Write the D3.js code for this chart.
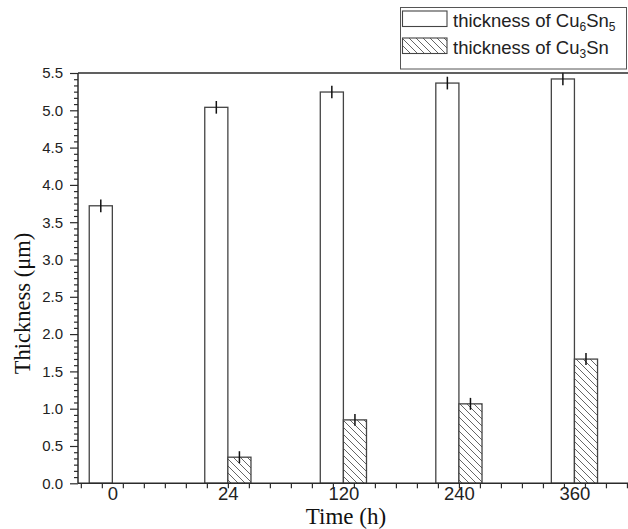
<!DOCTYPE html>
<html>
<head>
<meta charset="utf-8">
<script src="https://cdn.jsdelivr.net/npm/d3@7/dist/d3.min.js"></script>
<style>
  html, body { margin: 0; padding: 0; background: #fff; }
  svg { display: block; }
</style>
</head>
<body>
<svg id="chart" width="628" height="529"></svg>
<script>
// Aging time categories and measured layer thicknesses (µm)
const categories = ["0", "24", "120", "240", "360"];
const cu6sn5 = [3.72, 5.04, 5.245, 5.365, 5.42];
const cu6sn5Err = [0.085, 0.085, 0.085, 0.085, 0.085];
const cu3sn = [null, 0.35, 0.85, 1.065, 1.665];
const cu3snErr = [null, 0.08, 0.08, 0.08, 0.08];
const yTicks = [0, 0.5, 1, 1.5, 2, 2.5, 3, 3.5, 4, 4.5, 5, 5.5];

const W = 628, H = 529;
const plot = { left: 78, right: 628, top: 73, bottom: 483.3 };
const GROUP = 11;      // group spacing in axis units
const BAR = 2.2;       // bar width in axis units

const svg = d3.select("#chart");
const ink = "#2b2b2b";

const x = d3.scaleLinear().domain([-3.27, 49.1]).range([plot.left, plot.right]);
const y = d3.scaleLinear().domain([0, 5.5]).range([plot.bottom, plot.top]);

// hatch pattern for Cu3Sn
const defs = svg.append("defs");
const pat = defs.append("pattern")
  .attr("id", "hatch").attr("patternUnits", "userSpaceOnUse")
  .attr("width", 7).attr("height", 7);
pat.append("rect").attr("width", 7).attr("height", 7).attr("fill", "#fff");
pat.append("path")
  .attr("d", "M-1,-1 L8,8 M-4.5,2.5 L-1,6 M5.5,-2.5 L9,1 M-2,5 L2,9 M5,-2 L9,2")
  .attr("stroke", "#555").attr("stroke-width", 0.9);

const groups = categories.map((c, i) => ({ c, i, pos: i * GROUP }));

// Cu6Sn5 bars (left of group centre)
svg.append("g").selectAll("rect").data(groups).join("rect")
  .attr("x", d => x(d.pos - BAR))
  .attr("width", d => x(d.pos) - x(d.pos - BAR))
  .attr("y", d => y(cu6sn5[d.i]))
  .attr("height", d => y(0) - y(cu6sn5[d.i]))
  .attr("fill", "#fff").attr("stroke", "#444").attr("stroke-width", 1.3);

// Cu3Sn bars (right of group centre)
const g3 = groups.filter(d => cu3sn[d.i] != null);
svg.append("g").selectAll("rect").data(g3).join("rect")
  .attr("x", d => x(d.pos))
  .attr("width", d => x(d.pos + BAR) - x(d.pos))
  .attr("y", d => y(cu3sn[d.i]))
  .attr("height", d => y(0) - y(cu3sn[d.i]))
  .attr("fill", "url(#hatch)").attr("stroke", "#444").attr("stroke-width", 1.3);

// error bars
const errs = [];
groups.forEach(d => {
  errs.push({ cx: d.pos - BAR / 2, v: cu6sn5[d.i], e: cu6sn5Err[d.i] });
  if (cu3sn[d.i] != null) errs.push({ cx: d.pos + BAR / 2, v: cu3sn[d.i], e: cu3snErr[d.i] });
});
svg.append("g").selectAll("line").data(errs).join("line")
  .attr("x1", d => x(d.cx)).attr("x2", d => x(d.cx))
  .attr("y1", d => y(d.v + d.e)).attr("y2", d => y(d.v - d.e))
  .attr("stroke", "#111").attr("stroke-width", 1.5);

// y axis: major ticks with labels, minor ticks
const yMinor = d3.range(0, 5.5 + 1e-9, 0.5 / 6).filter(v => Math.abs(v * 2 - Math.round(v * 2)) > 1e-6);
const yAxisMinor = svg.append("g").attr("transform", `translate(${plot.left},0)`)
  .call(d3.axisLeft(y).tickValues(yMinor).tickSize(4).tickFormat(""));
const yAxis = svg.append("g").attr("transform", `translate(${plot.left},0)`)
  .call(d3.axisLeft(y).tickValues(yTicks).tickSize(8).tickPadding(7).tickFormat(d3.format(".1f")));
[yAxisMinor, yAxis].forEach(g => {
  g.select(".domain").remove();
  g.selectAll(".tick line").attr("stroke", ink).attr("stroke-width", 1.2);
});
yAxis.selectAll(".tick text")
  .attr("font-family", "'Liberation Sans', Arial, sans-serif")
  .attr("font-size", 15).attr("fill", "#222");

// x axis: minor ticks at odd units, category labels at group centres
const xMinor = d3.range(-3, 50, 2);
const xAxisMinor = svg.append("g").attr("transform", `translate(0,${plot.bottom})`)
  .call(d3.axisBottom(x).tickValues(xMinor).tickSize(5).tickFormat(""));
xAxisMinor.select(".domain").remove();
xAxisMinor.selectAll(".tick line").attr("stroke", ink).attr("stroke-width", 1.2);

const xAxis = svg.append("g").attr("transform", `translate(0,${plot.bottom})`)
  .call(d3.axisBottom(x).tickValues(groups.map(d => d.pos)).tickSize(0).tickPadding(4)
    .tickFormat((v, i) => categories[i]));
xAxis.select(".domain").remove();
xAxis.selectAll(".tick text")
  .attr("font-family", "'Liberation Sans', Arial, sans-serif")
  .attr("font-size", 18.5).attr("fill", "#222");

// axis frame lines
svg.append("line")
  .attr("x1", plot.left).attr("x2", plot.right).attr("y1", plot.bottom).attr("y2", plot.bottom)
  .attr("stroke", ink).attr("stroke-width", 1.5);
svg.append("line")
  .attr("x1", plot.left).attr("x2", plot.right).attr("y1", plot.top).attr("y2", plot.top)
  .attr("stroke", ink).attr("stroke-width", 1.5);
svg.append("line")
  .attr("x1", plot.left).attr("x2", plot.left).attr("y1", plot.top).attr("y2", plot.bottom)
  .attr("stroke", ink).attr("stroke-width", 1.5);

// axis titles
svg.append("text")
  .attr("x", 346).attr("y", 524).attr("text-anchor", "middle")
  .attr("font-family", "'Liberation Serif', 'Times New Roman', serif")
  .attr("font-size", 23).attr("fill", "#111")
  .text("Time (h)");
svg.append("text")
  .attr("transform", "translate(30,303.5) rotate(-90)").attr("text-anchor", "middle")
  .attr("font-family", "'Liberation Serif', 'Times New Roman', serif")
  .attr("font-size", 22.5).attr("fill", "#111")
  .text("Thickness (μm)");

// legend
const lg = svg.append("g");
lg.append("rect").attr("x", 400.5).attr("y", 7.5).attr("width", 226).attr("height", 61.5)
  .attr("fill", "#fff").attr("stroke", "#555").attr("stroke-width", 1);
const legendItems = [
  { fill: "#fff", base: "Cu", sub1: "6", mid: "Sn", sub2: "5", y: 11 },
  { fill: "url(#hatch)", base: "Cu", sub1: "3", mid: "Sn", sub2: null, y: 38 }
];
legendItems.forEach(it => {
  lg.append("rect").attr("x", 402.5).attr("y", it.y).attr("width", 44.5).attr("height", 15.5)
    .attr("fill", it.fill).attr("stroke", "#444").attr("stroke-width", 1.1);
  const t = lg.append("text").attr("x", 453).attr("y", it.y + 15.5)
    .attr("font-family", "'Liberation Sans', Arial, sans-serif")
    .attr("font-size", 18.5).attr("fill", "#222");
  t.append("tspan").text("thickness of " + it.base);
  t.append("tspan").attr("font-size", 12).attr("dy", 4).text(it.sub1);
  t.append("tspan").attr("dy", -4).text(it.mid);
  if (it.sub2) t.append("tspan").attr("font-size", 12).attr("dy", 4).text(it.sub2);
});
</script>
</body>
</html>
